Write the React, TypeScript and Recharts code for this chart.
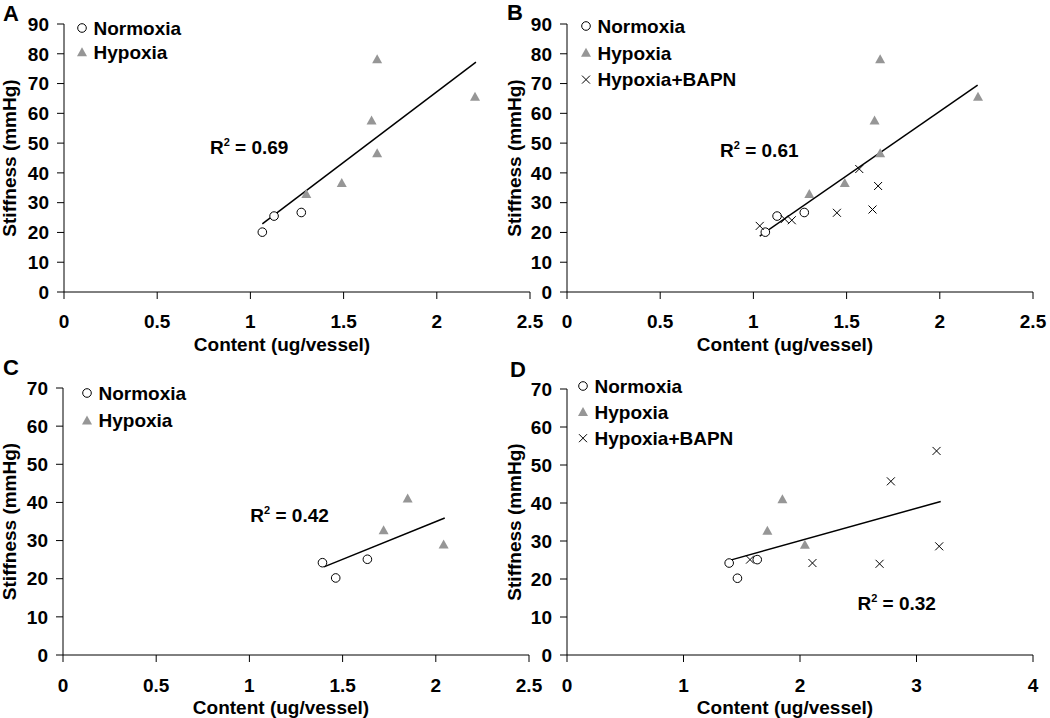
import React from 'react';
import {
  ScatterChart, Scatter, XAxis, YAxis, ReferenceLine, ReferenceDot, Legend, Label,
} from 'recharts';

const FONT = '"Liberation Sans", Arial, sans-serif';

// panels A & B (same animals, B adds the BAPN group)
const normoxiaX = [1.064, 1.127, 1.273];
const normoxiaY = [20.1, 25.5, 26.7];
const hypoxiaX = [1.3, 1.49, 1.65, 1.68, 1.68, 2.205];
const hypoxiaY = [32.9, 36.6, 57.6, 46.6, 78.2, 65.6];
const bapnX = [1.034, 1.168, 1.206, 1.448, 1.568, 1.639, 1.669];
const bapnY = [22.2, 24.5, 24.1, 26.6, 41.3, 27.7, 35.6];

// panels C & D
const normoxiaX2 = [1.392, 1.463, 1.633];
const normoxiaY2 = [24.2, 20.2, 25.1];
const hypoxiaX2 = [1.72, 1.849, 2.042];
const hypoxiaY2 = [32.7, 41.0, 29.0];
const bapnX2 = [1.571, 2.107, 2.683, 2.78, 3.172, 3.195];
const bapnY2 = [25.1, 24.2, 24.0, 45.7, 53.7, 28.6];

// trend line end points
const trendAX = [1.064, 2.21];
const trendAY = [22.9, 77.2];
const trendBX = [1.034, 2.203];
const trendBY = [18.8, 69.5];
const trendCX = [1.4, 2.048];
const trendCY = [23.1, 35.9];
const trendDX = [1.395, 3.208];
const trendDY = [24.9, 40.4];

const ticksX25 = [0, 0.5, 1, 1.5, 2, 2.5];
const ticksX4 = [0, 1, 2, 3, 4];
const ticksY90 = [0, 10, 20, 30, 40, 50, 60, 70, 80, 90];
const ticksY70 = [0, 10, 20, 30, 40, 50, 60, 70];

const pts = (xs: number[], ys: number[]) => xs.map((x, i) => ({ x, y: ys[i] }));

type Kind = 'circle' | 'triangle' | 'cross';

const marker = (kind: Kind, cx: number, cy: number) => {
  if (kind === 'circle') {
    return <circle cx={cx} cy={cy} r={4.3} fill="#fff" stroke="#000" strokeWidth={1} />;
  }
  if (kind === 'triangle') {
    return <polygon points={`${cx},${cy - 5} ${cx - 5},${cy + 4} ${cx + 5},${cy + 4}`} fill="#969696" />;
  }
  return (
    <path
      d={`M${cx - 4},${cy - 4}L${cx + 4},${cy + 4}M${cx - 4},${cy + 4}L${cx + 4},${cy - 4}`}
      stroke="#000"
      strokeWidth={1}
      fill="none"
    />
  );
};

const shapeFor = (kind: Kind) => (p: any) => marker(kind, p.cx, p.cy);

const txt = { fontFamily: FONT, fontWeight: 700, fill: '#000' };
const tickStyle = { fill: '#000', fontSize: 19, fontWeight: 700, fontFamily: FONT };

const XTitle = (props: any) => {
  const { x, y, width } = props.viewBox;
  return (
    <text x={x + width / 2 - 15} y={y + 58.5} textAnchor="middle" fontSize={19} {...txt}>
      Content (ug/vessel)
    </text>
  );
};

const YTitle = (props: any) => {
  const { x, y, height } = props.viewBox;
  const tx = x + 15.5;
  const ty = y + height / 2;
  return (
    <text x={tx} y={ty} transform={`rotate(-90 ${tx} ${ty})`} textAnchor="middle" fontSize={19} {...txt}>
      Stiffness (mmHg)
    </text>
  );
};

interface Series { name: string; kind: Kind; data: { x: number; y: number }[] }

const LegendBox = ({ items, gap }: { items: Series[]; gap: number }) => (
  <svg width={200} height={gap * items.length + 10} style={{ display: 'block', overflow: 'visible' }}>
    {items.map((it, i) => {
      const cy = 8 + i * gap;
      return (
        <g key={it.name}>
          {marker(it.kind, 6, cy)}
          <text x={17.5} y={cy + 6.8} fontSize={19} {...txt}>{it.name}</text>
        </g>
      );
    })}
  </svg>
);

interface PanelProps {
  left: number; top: number; width: number; height: number;
  marginTop: number; marginRight: number; yWidth: number; xHeight: number; xTickMargin: number;
  xTicks: number[]; yTicks: number[];
  series: Series[];
  trendX: number[]; trendY: number[];
  r2: string; r2X: number; r2Y: number;
  legendLeft: number; legendTop: number; legendGap: number;
}

function Panel(p: PanelProps) {
  const xMax = p.xTicks[p.xTicks.length - 1];
  const yMax = p.yTicks[p.yTicks.length - 1];
  return (
    <div style={{ position: 'absolute', left: p.left, top: p.top }}>
      <ScatterChart width={p.width} height={p.height} margin={{ top: p.marginTop, right: p.marginRight, left: 0, bottom: 0 }}>
        <XAxis
          type="number"
          dataKey="x"
          domain={[0, xMax]}
          ticks={p.xTicks}
          interval={0}
          allowDataOverflow
          height={p.xHeight}
          axisLine={{ stroke: '#000' }}
          tickLine={{ stroke: '#000' }}
          tickSize={7}
          tickMargin={p.xTickMargin}
          tick={tickStyle}
        >
          <Label content={XTitle} />
        </XAxis>
        <YAxis
          type="number"
          dataKey="y"
          domain={[0, yMax]}
          ticks={p.yTicks}
          interval={0}
          allowDataOverflow
          width={p.yWidth}
          axisLine={{ stroke: '#000' }}
          tickLine={{ stroke: '#000' }}
          tickSize={7}
          tickMargin={8}
          tick={tickStyle}
        >
          <Label content={YTitle} />
        </YAxis>
        <Legend
          layout="vertical"
          align="center"
          verticalAlign="middle"
          wrapperStyle={{
            left: p.legendLeft,
            top: p.legendTop,
            width: 200,
            height: p.legendGap * p.series.length + 10,
            overflow: 'visible',
          }}
          content={() => <LegendBox items={p.series} gap={p.legendGap} />}
        />
        {p.series.map((s) => (
          <Scatter key={s.name} name={s.name} data={s.data} shape={shapeFor(s.kind)} isAnimationActive={false} />
        ))}
        <ReferenceLine
          segment={[{ x: p.trendX[0], y: p.trendY[0] }, { x: p.trendX[1], y: p.trendY[1] }]}
          stroke="#000"
          strokeWidth={1.5}
          ifOverflow="visible"
        />
        <ReferenceDot
          x={p.r2X}
          y={p.r2Y}
          r={0}
          ifOverflow="visible"
          shape={(d: any) => (
            <text x={d.cx} y={d.cy} fontSize={19} {...txt}>
              R<tspan dy={-8} fontSize={11}>2</tspan>
              <tspan dy={8}>{` = ${p.r2}`}</tspan>
            </text>
          )}
        />
      </ScatterChart>
    </div>
  );
}

const seriesA: Series[] = [
  { name: 'Normoxia', kind: 'circle', data: pts(normoxiaX, normoxiaY) },
  { name: 'Hypoxia', kind: 'triangle', data: pts(hypoxiaX, hypoxiaY) },
];
const seriesB: Series[] = [
  ...seriesA,
  { name: 'Hypoxia+BAPN', kind: 'cross', data: pts(bapnX, bapnY) },
];
const seriesC: Series[] = [
  { name: 'Normoxia', kind: 'circle', data: pts(normoxiaX2, normoxiaY2) },
  { name: 'Hypoxia', kind: 'triangle', data: pts(hypoxiaX2, hypoxiaY2) },
];
const seriesD: Series[] = [
  ...seriesC,
  { name: 'Hypoxia+BAPN', kind: 'cross', data: pts(bapnX2, bapnY2) },
];

export default function App() {
  return (
    <div style={{ position: 'absolute', left: 0, top: 0, width: 1050, height: 718, background: '#fff', overflow: 'hidden' }}>
      <Panel
        left={0} top={0} width={560} height={358} marginTop={24} marginRight={30} yWidth={64} xHeight={66} xTickMargin={16}
        xTicks={ticksX25} yTicks={ticksY90} series={seriesA}
        trendX={trendAX} trendY={trendAY}
        r2="0.69" r2X={0.783} r2Y={46.5}
        legendLeft={75.7} legendTop={20.3} legendGap={24.2}
      />
      <Panel
        left={505} top={0} width={545} height={358} marginTop={24} marginRight={17} yWidth={62} xHeight={66} xTickMargin={16}
        xTicks={ticksX25} yTicks={ticksY90} series={seriesB}
        trendX={trendBX} trendY={trendBY}
        r2="0.61" r2X={0.821} r2Y={45.4}
        legendLeft={75} legendTop={18.3} legendGap={26.8}
      />
      <Panel
        left={0} top={360} width={560} height={358} marginTop={28} marginRight={31} yWidth={63} xHeight={63} xTickMargin={17}
        xTicks={ticksX25} yTicks={ticksY70} series={seriesC}
        trendX={trendCX} trendY={trendCY}
        r2="0.42" r2X={1.005} r2Y={34.8}
        legendLeft={81.3} legendTop={25.3} legendGap={27.4}
      />
      <Panel
        left={505} top={360} width={545} height={358} marginTop={29} marginRight={17} yWidth={62} xHeight={63} xTickMargin={17}
        xTicks={ticksX4} yTicks={ticksY70} series={seriesD}
        trendX={trendDX} trendY={trendDY}
        r2="0.32" r2X={2.493} r2Y={11.9}
        legendLeft={72} legendTop={18} legendGap={26.1}
      />
      <svg width={1050} height={718} style={{ position: 'absolute', left: 0, top: 0, pointerEvents: 'none' }}>
        <text x={3} y={20.5} fontSize={22} {...txt}>A</text>
        <text x={507} y={20} fontSize={22} {...txt}>B</text>
        <text x={3} y={375} fontSize={22} {...txt}>C</text>
        <text x={510} y={376.5} fontSize={22} {...txt}>D</text>
      </svg>
    </div>
  );
}
